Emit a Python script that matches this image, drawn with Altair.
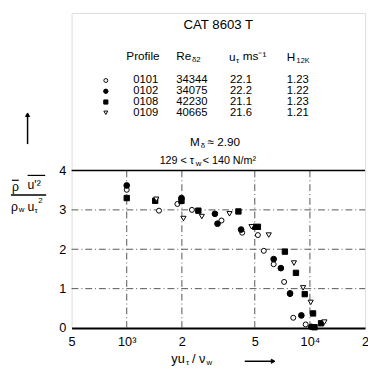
import altair as alt
import pandas as pd

FONT = "Liberation Sans"

# ---- data ----
x_0101 = [1000, 1500, 1890, 2270, 3290, 4270, 5200, 5600, 6340, 7230, 7790, 8110, 9480]
y_0101 = [3.51, 2.98, 3.15, 3.00, 2.73, 2.42, 2.36, 1.96, 1.62, 1.17, 0.86, 0.26, 0.09]

x_0102 = [1000, 1990, 3030, 3130, 4210, 4960, 6340, 6940, 7790, 8980, 10170]
y_0102 = [3.62, 3.30, 2.90, 2.65, 2.50, 2.57, 1.75, 1.52, 0.88, 0.32, 0.03]

x_0108 = [1000, 1430, 1990, 2460, 4070, 5200, 7300, 8390, 9370, 10400, 10600, 11500]
y_0108 = [3.30, 3.23, 3.23, 2.98, 2.96, 2.57, 1.94, 1.40, 0.86, 0.37, 0.02, 0.12]

x_0109 = [1450, 2040, 2570, 3640, 4800, 5960, 8180, 9180, 10100, 12000]
y_0109 = [3.27, 2.78, 2.83, 2.90, 2.57, 2.36, 1.65, 1.02, 0.65, 0.15]

profiles = ["0101", "0102", "0108", "0109"]
re_delta2 = ["34344", "34075", "42230", "40665"]
u_tau = ["22.1", "22.2", "21.1", "21.6"]
h12k = ["1.23", "1.22", "1.23", "1.21"]

x_ticks = [500, 1000, 2000, 5000, 10000, 20000]
y_ticks = [0, 1, 2, 3, 4]
x_grid = [1000, 2000, 5000, 10000]
y_grid = [1, 2, 3]

W, H = 300, 322
XS = alt.Scale(type="log", domain=[500, 20000], nice=False)
YS = alt.Scale(domain=[0, 8], nice=False, zero=False)

dummy = pd.DataFrame({"a": [0]})


def txt(s, x, y, size=11.5, align="left", weight="normal"):
    return alt.Chart(dummy).mark_text(
        align=align, baseline="middle", fontSize=size, font=FONT,
        color="black", fontWeight=weight
    ).encode(x=alt.value(x), y=alt.value(y), text=alt.value(s))


def hline(x1, x2, y, w=1.2):
    return alt.Chart(dummy).mark_rule(color="black", strokeWidth=w).encode(
        x=alt.value(x1), x2=alt.value(x2), y=alt.value(y))


def vline(x, y1, y2, w=1.2):
    return alt.Chart(dummy).mark_rule(color="black", strokeWidth=w).encode(
        x=alt.value(x), y=alt.value(y1), y2=alt.value(y2))


def pt(x, y, shape, filled, size):
    return alt.Chart(dummy).mark_point(
        shape=shape, filled=filled, fill="black" if filled else "white",
        stroke="black", strokeWidth=1, size=size, opacity=1
    ).encode(x=alt.value(x), y=alt.value(y))


# base with axes
axis_df = pd.DataFrame({"x": [500], "y": [0]})
base = alt.Chart(axis_df).mark_point(opacity=0).encode(
    x=alt.X("x:Q", scale=XS, title=None,
            axis=alt.Axis(values=x_ticks, tickSize=0, labelPadding=8,
                          labelFontSize=13, labelFont=FONT, labelColor="black",
                          domainColor="black", domainWidth=2.2, grid=False,
                          labelOverlap=False, labelBound=False, labelFlush=False,
                          labelExpr="datum.value==1000?'10³':datum.value==10000?'10⁴':(datum.value==2000||datum.value==20000)?'2':'5'")),
    y=alt.Y("y:Q", scale=YS, title=None,
            axis=alt.Axis(values=y_ticks, tickSize=0, labelPadding=6,
                          labelFontSize=13, labelFont=FONT, labelColor="black",
                          domain=False, grid=False, format="d")),
)

gdash = [7, 3, 1, 3]
vgrid = alt.Chart(pd.DataFrame({"g": x_grid})).mark_rule(
    color="#555", strokeWidth=1, strokeDash=gdash).encode(
    x=alt.X("g:Q", scale=XS), y=alt.datum(0, scale=YS), y2=alt.datum(4))
hgrid = alt.Chart(pd.DataFrame({"g": y_grid})).mark_rule(
    color="#555", strokeWidth=1, strokeDash=gdash).encode(
    y=alt.Y("g:Q", scale=YS), x=alt.datum(500, scale=XS), x2=alt.datum(20000))
topline = alt.Chart(dummy).mark_rule(color="black", strokeWidth=1.6).encode(
    y=alt.datum(4, scale=YS), x=alt.datum(500, scale=XS), x2=alt.datum(20000))


def series(xs, ys, shape, filled, size):
    df = pd.DataFrame({"x": xs, "y": ys})
    return alt.Chart(df).mark_point(
        shape=shape, filled=filled, fill="black" if filled else "white",
        stroke="black", strokeWidth=1, size=size, opacity=1
    ).encode(x=alt.X("x:Q", scale=XS), y=alt.Y("y:Q", scale=YS))


s1 = series(x_0101, y_0101, "circle", False, 26)
s2 = series(x_0102, y_0102, "circle", True, 34)
s3 = series(x_0108, y_0108, "square", True, 30)
s4 = series(x_0109, y_0109, "triangle-down", False, 28)

layers = [base, vgrid, hgrid, topline, s1, s2, s3, s4]

# ---- legend box text ----
layers.append(txt("CAT 8603 T", 150, 12, size=13.5, align="center"))
layers += [
    txt("Profile", 56, 44, size=12),
    txt("Re", 107, 44, size=12), txt("δ2", 123, 48, size=8),
    txt("u", 161, 45, size=12), txt("τ", 168, 49, size=8), txt("ms⁻¹", 175, 44, size=12),
    txt("H", 220, 45, size=12), txt("12K", 230, 49, size=7.5),
]
legend_marks = [("circle", False, 16), ("circle", True, 20),
                ("square", True, 18), ("triangle-down", False, 16)]
for i in range(4):
    yy = 69 + 11 * i
    shp, fl, sz = legend_marks[i]
    layers.append(pt(35, yy, shp, fl, sz))
    layers.append(txt(profiles[i], 63, yy))
    layers.append(txt(re_delta2[i], 107, yy))
    layers.append(txt(u_tau[i], 162, yy))
    layers.append(txt(h12k[i], 220, yy))

layers += [
    txt("M", 121, 132, size=12), txt("δ", 132, 136, size=8), txt("≈ 2.90", 139, 132, size=12),
    txt("129 < τ", 90, 151, size=11), txt("w", 127, 154, size=8), txt("< 140 N/m²", 134, 151, size=11),
]

# ---- y title (fraction) and arrow ----
layers += [
    txt("ρ", -61, 178, size=12.5), hline(-61, -54, 171, 1.2),
    txt("u'²", -45, 176, size=12.5),
    hline(-45, -27, 166, 1.2),
    hline(-62, -26, 186, 1.4),
    txt("ρ", -62, 198, size=12.5), txt("w", -54, 201, size=8),
    txt("u", -45, 198, size=12.5), txt("τ", -38, 202, size=8), txt("2", -34, 192, size=8),
    vline(-45, 103, 134, 1.5),
    pt(-45, 104, "triangle-up", True, 18),
]

# ---- x title and arrow ----
layers += [
    txt("yu", 102, 354, size=13), txt("τ", 117, 358, size=8),
    txt("/ ν", 123, 354, size=13), txt("w", 138, 358, size=8),
    hline(177, 206, 356, 1.5),
    pt(206, 356, "triangle-right", True, 18),
]

chart = alt.layer(*layers).properties(
    width=W, height=H,
    padding={"left": 65, "top": 1, "right": 3, "bottom": 47},
    autosize=alt.AutoSizeParams(type="none"),
).configure_view(stroke="black", strokeWidth=1.5).configure(background="white")

chart.save("out.html", embed_options={"renderer": "svg", "actions": False})
